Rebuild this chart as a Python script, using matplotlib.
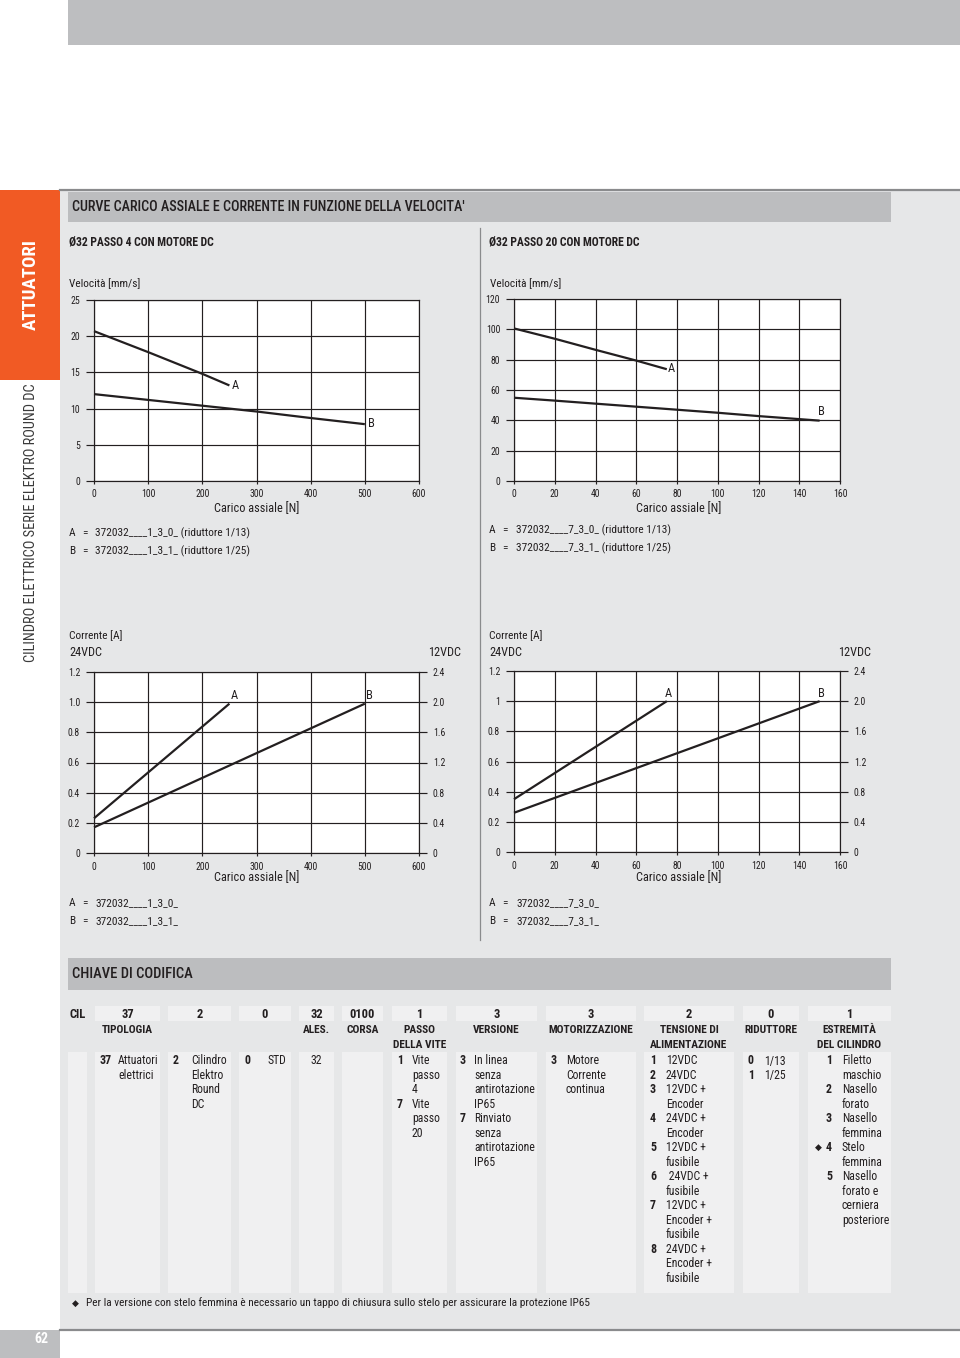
import matplotlib
matplotlib.use('Agg')
import matplotlib.pyplot as plt
from matplotlib.patches import Rectangle
from matplotlib.lines import Line2D
from matplotlib import font_manager as fm

# ---------------- data ----------------
# Ø32 passo 4 – velocity vs axial load
p4_load_A = [0, 100, 200, 250]
p4_vel_A = [20.7, 17.8, 14.8, 13.2]
p4_load_B = [0, 100, 200, 300, 400, 500]
p4_vel_B = [12.0, 11.2, 10.4, 9.6, 8.7, 7.85]
# Ø32 passo 20 – velocity vs axial load
p20_load_A = [0, 20, 40, 60, 75]
p20_vel_A = [100.6, 93.8, 86.5, 79.4, 73.7]
p20_load_B = [0, 20, 40, 60, 80, 100, 120, 140, 150]
p20_vel_B = [54.9, 53.0, 51.0, 49.0, 47.0, 45.0, 42.8, 40.8, 39.8]
# current vs axial load (24VDC scale)
p4_cur_load_A = [0, 250]
p4_cur_A = [0.23, 0.99]
p4_cur_load_B = [0, 500]
p4_cur_B = [0.17, 0.99]
p20_cur_load_A = [0, 75]
p20_cur_A = [0.35, 1.0]
p20_cur_load_B = [0, 150]
p20_cur_B = [0.26, 1.0]

p4_xticks = [0, 100, 200, 300, 400, 500, 600]
p20_xticks = [0, 20, 40, 60, 80, 100, 120, 140, 160]
p4_vel_yticks = [0, 5, 10, 15, 20, 25]
p20_vel_yticks = [0, 20, 40, 60, 80, 100, 120]
cur_yticks = [0, 0.2, 0.4, 0.6, 0.8, 1.0, 1.2]
p4_cur_ylabels = ['0', '0.2', '0.4', '0.6', '0.8', '1.0', '1.2']
p20_cur_ylabels = ['0', '0.2', '0.4', '0.6', '0.8', '1', '1.2']
cur12_yticks = [0, 0.4, 0.8, 1.2, 1.6, 2.0, 2.4]
cur12_ylabels = ['0', '0.4', '0.8', '1.2', '1.6', '2.0', '2.4']

# ---------------- fonts ----------------
names = {f.name for f in fm.fontManager.ttflist}
FAM = 'DejaVu Sans'
for cand in ['Liberation Sans Narrow', 'Roboto Condensed', 'Open Sans Condensed',
             'Noto Sans Condensed', 'DejaVu Sans Condensed', 'Roboto']:
    if cand in names:
        FAM = cand
        break
plt.rcParams['font.family'] = [FAM, 'DejaVu Sans']

W, H = 960, 1358
fig = plt.figure(figsize=(9.6, 13.58), dpi=100)
fig.patch.set_facecolor('white')
INK = '#231f20'


def fx(x):
    return x / W


def fy(y):
    return 1 - y / H


def rect(x0, y0, x1, y1, color, z=-5):
    fig.patches.append(Rectangle((fx(x0), fy(y1)), (x1 - x0) / W, (y1 - y0) / H,
                                 transform=fig.transFigure, facecolor=color,
                                 edgecolor='none', zorder=z))


def hline(x0, x1, y, color, lw, z=-4):
    fig.add_artist(Line2D([fx(x0), fx(x1)], [fy(y), fy(y)], transform=fig.transFigure,
                          color=color, lw=lw, zorder=z))


def vline(x, y0, y1, color, lw, z=-4):
    fig.add_artist(Line2D([fx(x), fx(x)], [fy(y0), fy(y1)], transform=fig.transFigure,
                          color=color, lw=lw, zorder=z))


def txt(x, y, s, size=8, weight='normal', ha='left', va='center', color=INK, **kw):
    fig.text(fx(x), fy(y), s, fontsize=size, fontweight=weight, ha=ha, va=va,
             color=color, **kw)


# ---------------- page background ----------------
rect(68, 0, 960, 45, '#bdbec0')
rect(60, 190, 960, 1330, '#e6e7e8')
hline(60, 960, 190, '#8a8b8d', 1.6)
hline(60, 960, 1330, '#8a8b8d', 1.6)
rect(0, 190, 60, 380, '#f15a24')
txt(31, 285, 'ATTUATORI', size=13.5, weight='bold', ha='center', color='white', rotation=90)
txt(31, 523, 'CILINDRO ELETTRICO SERIE ELEKTRO ROUND DC', size=10.4, ha='center',
    color='#3a3a3a', rotation=90)
rect(0, 1330, 60, 1358, '#bdbec0')
txt(41, 1339, '62', size=10, weight='bold', ha='center', color='white')

# header bars
rect(68, 192, 891, 222, '#bcbdbf', z=-3)
txt(72, 207, "CURVE CARICO ASSIALE E CORRENTE IN FUNZIONE DELLA VELOCITA'", size=10.2,
    weight='medium')
rect(68, 958, 891, 990, '#bcbdbf', z=-3)
txt(72, 974, 'CHIAVE DI CODIFICA', size=10.5, weight='medium')
vline(480, 228, 940, '#8a8b8d', 0.9)

txt(69, 242, 'Ø32 PASSO 4 CON MOTORE DC', size=8.4, weight='bold')
txt(489, 242, 'Ø32 PASSO 20 CON MOTORE DC', size=8.4, weight='bold')


# ---------------- charts ----------------
def make_axes(x0, y0, x1, y1, xlim, ylim, xticks, yticks, ylabels=None):
    ax = fig.add_axes([fx(x0), fy(y1), (x1 - x0) / W, (y1 - y0) / H])
    ax.set_facecolor('white')
    ax.set_xlim(*xlim)
    ax.set_ylim(*ylim)
    ax.set_xticks(xticks)
    ax.set_xticklabels([str(t) for t in xticks])
    ax.set_yticks(yticks)
    ax.set_yticklabels(ylabels if ylabels else [str(t) for t in yticks])
    ax.grid(True, color=INK, lw=0.85)
    for s in ax.spines.values():
        s.set_color(INK)
        s.set_linewidth(0.85)
    ax.tick_params(axis='y', direction='out', length=6, width=0.85, pad=4,
                   labelsize=7, colors=INK)
    ax.tick_params(axis='x', direction='out', length=2.5, width=0.85, pad=3,
                   labelsize=7, colors=INK)
    ax.set_axisbelow(True)
    return ax


def curve(ax, xs, ys, label, lx, ly, va='center'):
    ax.plot(xs, ys, color=INK, lw=1.6, solid_capstyle='butt', clip_on=False, zorder=5)
    ax.text(lx, ly, label, fontsize=9, ha='left', va=va, color=INK, zorder=6)


# left velocity
ax1 = make_axes(94, 300, 419, 481, (0, 600), (0, 25), p4_xticks, p4_vel_yticks)
curve(ax1, p4_load_A, p4_vel_A, 'A', p4_load_A[-1] + 5, p4_vel_A[-1])
curve(ax1, p4_load_B, p4_vel_B, 'B', p4_load_B[-1] + 5, p4_vel_B[-1] + 0.1)
txt(69, 284, 'Velocità [mm/s]', size=8.2)
txt(257, 509, 'Carico assiale [N]', size=8.8, ha='center')
txt(69, 533, 'A', size=8.2)
txt(82, 533, '=', size=8.2)
txt(95, 533, '372032____1_3_0_ (riduttore 1/13)', size=8.2)
txt(69, 551, 'B', size=8.2)
txt(82, 551, '=', size=8.2)
txt(95, 551, '372032____1_3_1_ (riduttore 1/25)', size=8.2)

# right velocity
ax2 = make_axes(514, 299, 840, 481, (0, 160), (0, 120), p20_xticks, p20_vel_yticks)
curve(ax2, p20_load_A, p20_vel_A, 'A', p20_load_A[-1] + 0.5, p20_vel_A[-1] + 0.5)
curve(ax2, p20_load_B, p20_vel_B, 'B', p20_load_B[-1] - 1, p20_vel_B[-1] + 1.5, va='bottom')
txt(490, 284, 'Velocità [mm/s]', size=8.2)
txt(679, 509, 'Carico assiale [N]', size=8.8, ha='center')
txt(489, 530, 'A', size=8.2)
txt(502, 530, '=', size=8.2)
txt(516, 530, '372032____7_3_0_ (riduttore 1/13)', size=8.2)
txt(489, 548, 'B', size=8.2)
txt(502, 548, '=', size=8.2)
txt(516, 548, '372032____7_3_1_ (riduttore 1/25)', size=8.2)


def current_chart(x0, y0, x1, y1, xlim, xticks, ylabels):
    ax = make_axes(x0, y0, x1, y1, xlim, (0, 1.2), xticks, cur_yticks, ylabels)
    ax.tick_params(axis='x', pad=4)
    axr = ax.twinx()
    axr.set_ylim(0, 2.4)
    axr.set_yticks(cur12_yticks)
    axr.set_yticklabels(cur12_ylabels)
    axr.tick_params(axis='y', direction='out', length=6, width=0.85, pad=4,
                    labelsize=7, colors=INK)
    for s in axr.spines.values():
        s.set_visible(False)
    return ax


ax3 = current_chart(94, 672, 419, 853, (0, 600), p4_xticks, p4_cur_ylabels)
curve(ax3, p4_cur_load_A, p4_cur_A, 'A', p4_cur_load_A[-1] + 3, p4_cur_A[-1] + 0.01, va='bottom')
curve(ax3, p4_cur_load_B, p4_cur_B, 'B', p4_cur_load_B[-1] + 3, p4_cur_B[-1] + 0.01, va='bottom')
txt(69, 636, 'Corrente [A]', size=8.2)
txt(69, 652, '24VDC', size=8.8)
txt(461, 652, '12VDC', size=8.8, ha='right')
txt(257, 878, 'Carico assiale [N]', size=8.8, ha='center')
txt(69, 903, 'A', size=8.2)
txt(82, 903, '=', size=8.2)
txt(95, 903, '372032____1_3_0_', size=8.2)
txt(69, 921, 'B', size=8.2)
txt(82, 921, '=', size=8.2)
txt(95, 921, '372032____1_3_1_', size=8.2)

ax4 = current_chart(514, 671, 840, 852, (0, 160), p20_xticks, p20_cur_ylabels)
curve(ax4, p20_cur_load_A, p20_cur_A, 'A', p20_cur_load_A[-1] - 1, p20_cur_A[-1] + 0.01, va='bottom')
curve(ax4, p20_cur_load_B, p20_cur_B, 'B', p20_cur_load_B[-1] - 1, p20_cur_B[-1] + 0.01, va='bottom')
txt(489, 636, 'Corrente [A]', size=8.2)
txt(489, 652, '24VDC', size=8.8)
txt(871, 652, '12VDC', size=8.8, ha='right')
txt(679, 878, 'Carico assiale [N]', size=8.8, ha='center')
txt(489, 903, 'A', size=8.2)
txt(502, 903, '=', size=8.2)
txt(516, 903, '372032____7_3_0_', size=8.2)
txt(489, 921, 'B', size=8.2)
txt(502, 921, '=', size=8.2)
txt(516, 921, '372032____7_3_1_', size=8.2)

# ---------------- coding key table ----------------
columns = [
    # (x0, x1, code, title lines, entries, num_x, text_x)
    (68, 87, 'CIL', [], [], None, None),
    (95, 160, '37', ['TIPOLOGIA'], [('37', ['Attuatori', 'elettrici'])], 100, 118),
    (168, 231, '2', [], [('2', ['Cilindro', 'Elektro', 'Round', 'DC'])], 173, 191),
    (239, 291, '0', [], [('0', ['STD'])], 245, 267),
    (299, 334, '32', ['ALES.'], [('', ['32'])], None, 'center'),
    (342, 383, '0100', ['CORSA'], [], None, None),
    (392, 447, '1', ['PASSO', 'DELLA VITE'],
     [('1', ['Vite', 'passo', '4']), ('7', ['Vite', 'passo', '20'])], 397, 412),
    (456, 537, '3', ['VERSIONE'],
     [('3', ['In linea', 'senza', 'antirotazione', 'IP65']),
      ('7', ['Rinviato', 'senza', 'antirotazione', 'IP65'])], 460, 474),
    (546, 636, '3', ['MOTORIZZAZIONE'], [('3', ['Motore', 'Corrente', 'continua'])], 551, 566),
    (644, 734, '2', ['TENSIONE DI', 'ALIMENTAZIONE'],
     [('1', ['12VDC']), ('2', ['24VDC']), ('3', ['12VDC +', 'Encoder']),
      ('4', ['24VDC +', 'Encoder']), ('5', ['12VDC +', 'fusibile']),
      ('6', [' 24VDC +', 'fusibile']), ('7', ['12VDC +', 'Encoder +', 'fusibile']),
      ('8', ['24VDC +', 'Encoder +', 'fusibile'])], 650, 666),
    (743, 799, '0', ['RIDUTTORE'], [('0', ['1/13']), ('1', ['1/25'])], 748, 764),
    (808, 891, '1', ['ESTREMITÀ', 'DEL CILINDRO'],
     [('1', ['Filetto', 'maschio']), ('2', ['Nasello', 'forato']),
      ('3', ['Nasello', 'femmina']), ('◆4', ['Stelo', 'femmina']),
      ('5', ['Nasello', 'forato e', 'cerniera', 'posteriore'])], 826, 842),
]

CELL = '#f0f0f1'
Y_HEAD = 1014
Y_TITLE = [1030, 1045]
Y0 = 1061
DY = 14.47
for (x0, x1, code, title, entries, nx, tx) in columns:
    xc = (x0 + x1) / 2
    rect(x0, 1052, x1, 1293, CELL, z=-3)
    if code == 'CIL':
        txt(70, Y_HEAD, code, size=9, weight='bold')
    else:
        rect(x0, 1006, x1, 1021, CELL, z=-3)
        txt(xc, Y_HEAD, code, size=9, weight='bold', ha='center')
    for i, t in enumerate(title):
        txt(xc, Y_TITLE[i], t, size=8.2, weight='bold', ha='center')
    row = 0
    for num, lines in entries:
        if num.startswith('◆'):
            txt(nx - 11, Y0 + row * DY, '◆', size=6.5, ha='left')
            num = num[1:]
        if num:
            txt(nx, Y0 + row * DY, num, size=8.6, weight='bold')
        for ln in lines:
            if tx == 'center':
                txt(xc, Y0 + row * DY, ln, size=8.5, ha='center')
            else:
                txt(tx, Y0 + row * DY, ln, size=8.5)
            row += 1

txt(72, 1303, '◆', size=6.5)
txt(86, 1303, 'Per la versione con stelo femmina è necessario un tappo di chiusura sullo '
    'stelo per assicurare la protezione IP65', size=8.2)

fig.savefig('out.png', dpi=100, facecolor='white')
